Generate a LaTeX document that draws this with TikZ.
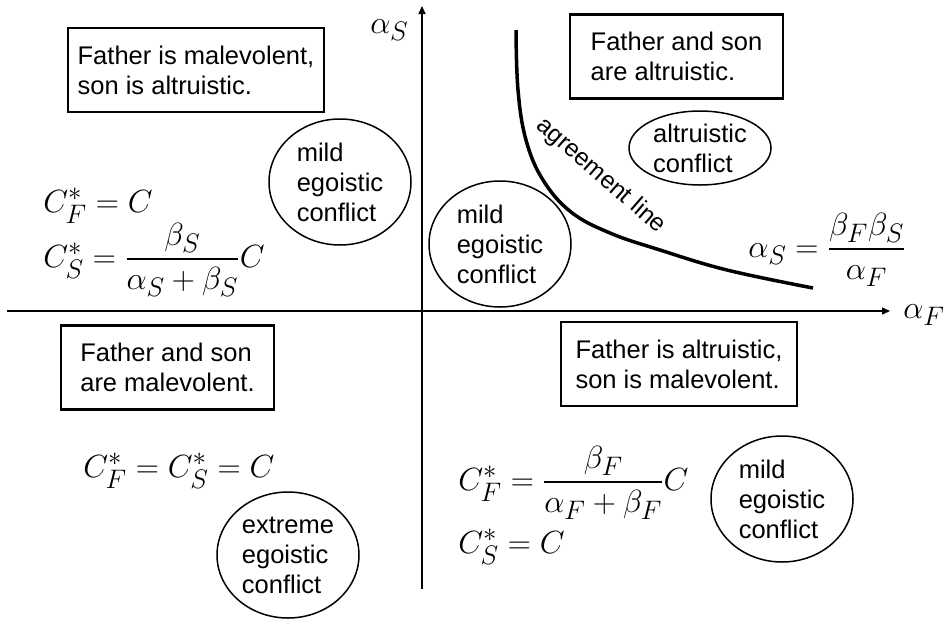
\documentclass[tikz,border=0pt]{standalone}
\usepackage{amsmath}
\usepackage{fontspec}
\setmainfont{Liberation Sans}
\usetikzlibrary{arrows.meta,shapes.geometric}

\begin{document}
\begin{tikzpicture}[x=1pt, y=-1pt,
    every node/.style={inner sep=0pt},
    txt/.style={font=\fontsize{25.5}{30}\selectfont, align=left},
    quad/.style={txt, draw, line width=2.5pt, minimum height=84pt},
    oval/.style={txt, draw, ellipse, line width=1.5pt,
                 minimum width=142pt, minimum height=126pt},
    eq/.style={font=\fontsize{24.88}{30}\selectfont, scale=1.29, transform shape,
               anchor=base west},
    axis/.style={line width=1.5pt, -{Triangle[length=8pt,width=7pt]}}]
  \useasboundingbox (0,0) rectangle (946,619);

  % axes
  \coordinate (xl) at (7,311);
  \coordinate (xr) at (890,311);
  \coordinate (yb) at (422,589);
  \coordinate (yt) at (422,6);
  \draw[axis] (xl) -- (xr);
  \draw[axis] (yb) -- (yt);
  \node[eq] (as) at (370,33) {$\alpha_S$};
  \node[eq] (af) at (903,318) {$\alpha_F$};

  % agreement line
  \coordinate (agtop) at (516,30);
  \coordinate (agend) at (813,288);
  \draw[line width=3.5pt] plot[smooth, tension=0.65] coordinates {(agtop) (518,90)
        (526,140) (543,180) (571,212) (610,233) (660,250) (727,270) (agend)};
  \node[txt, font=\fontsize{24.5}{28}\selectfont, rotate=-41] (agree) at (601,176) {agreement line};
  \node[eq] (hyp) at (748,257) {$\alpha_S = \dfrac{\beta_F\beta_S}{\alpha_F}$};

  % quadrants
  \node[quad, minimum width=256pt] (malalt) at (196,70) {Father is malevolent,\\son is altruistic.};
  \node[quad, minimum width=213pt] (altalt) at (676.5,56.5) {Father and son\\are altruistic.};
  \node[quad, minimum width=213pt] (malmal) at (167.5,367.5) {Father and son\\are malevolent.};
  \node[quad, minimum width=236pt] (altmal) at (679,364) {Father is altruistic,\\son is malevolent.};

  \node[oval] (mildtl) at (340,182) {mild\\egoistic\\conflict};
  \node[oval] (mildc) at (500,244) {mild\\egoistic\\conflict};
  \node[oval, minimum height=74pt] (altconf) at (700,148) {altruistic\\conflict};
  \node[oval] (extreme) at (288,555) {extreme\\egoistic\\conflict};
  \node[oval] (mildbr) at (782,499) {mild\\egoistic\\conflict};

  \node[eq] (tlf) at (43,212) {$C_F^* = C$};
  \node[eq] (tls) at (43,267) {$C_S^* = \dfrac{\beta_S}{\alpha_S + \beta_S}C$};
  \node[eq] (blfs) at (83,477) {$C_F^* = C_S^* = C$};
  \node[eq] (brf) at (458,490) {$C_F^* = \dfrac{\beta_F}{\alpha_F + \beta_F}C$};
  \node[eq] (brs) at (458,553) {$C_S^* = C$};
\end{tikzpicture}
\end{document}
